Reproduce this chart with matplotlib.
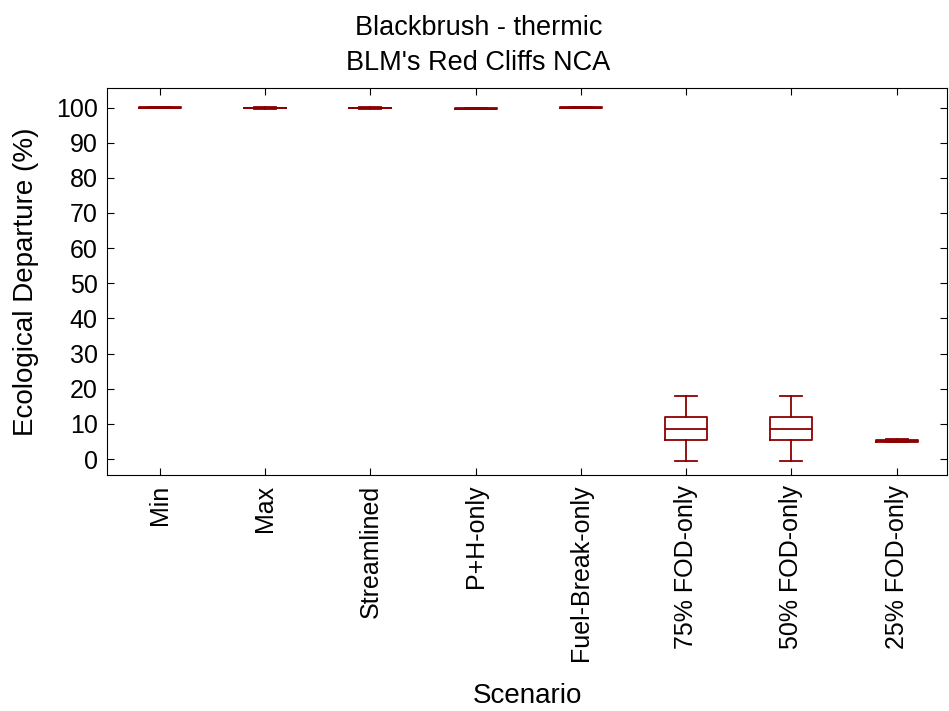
import matplotlib
matplotlib.use("Agg")
import matplotlib.pyplot as plt

scenarios = ["Min", "Max", "Streamlined", "P+H-only", "Fuel-Break-only",
             "75% FOD-only", "50% FOD-only", "25% FOD-only"]
whislo = [99.9, 99.7, 99.7, 99.5, 99.9, -0.5, -0.5, 4.8]
q1 = [99.95, 99.8, 99.8, 99.6, 99.95, 5.3, 5.3, 5.0]
med = [100.0, 99.9, 99.9, 99.7, 100.0, 8.6, 8.6, 5.2]
q3 = [100.05, 100.0, 100.0, 99.8, 100.05, 12.0, 12.0, 5.4]
whishi = [100.1, 100.1, 100.1, 99.9, 100.1, 18.0, 18.0, 5.6]

plt.rcParams['font.family'] = ['Liberation Sans', 'DejaVu Sans']
color = '#8b0000'

fig, ax = plt.subplots(figsize=(9.49, 7.11), dpi=100)
fig.subplots_adjust(left=0.113, right=0.998, top=0.876, bottom=0.332)

stats = []
for i, name in enumerate(scenarios):
    stats.append(dict(label=name, whislo=whislo[i], q1=q1[i], med=med[i],
                      q3=q3[i], whishi=whishi[i], fliers=[]))

line = dict(color=color, linewidth=1.3)
ax.bxp(stats, positions=range(len(scenarios)), widths=0.4, showfliers=False,
       boxprops=line, whiskerprops=line, capprops=line, medianprops=line,
       capwidths=0.21)

ax.set_xlim(-0.5, 7.48)
ax.set_ylim(-4.5, 105.5)
ax.set_yticks(range(0, 101, 10))
ax.set_xticks(range(len(scenarios)))
ax.set_xticklabels(scenarios, rotation=90, fontsize=18)
ax.tick_params(axis='y', labelsize=18)
ax.tick_params(direction='in', top=True, right=True, length=5, pad=7)
ax.set_xlabel("Scenario", fontsize=20, labelpad=16)
ax.set_ylabel("Ecological Departure (%)", fontsize=20, labelpad=12)
# title is centred on the figure, not on the axes
ax.set_title("Blackbrush - thermic\nBLM's Red Cliffs NCA", fontsize=19.5,
             pad=13, linespacing=1.45, x=0.442)

fig.savefig("out.png", dpi=100)
